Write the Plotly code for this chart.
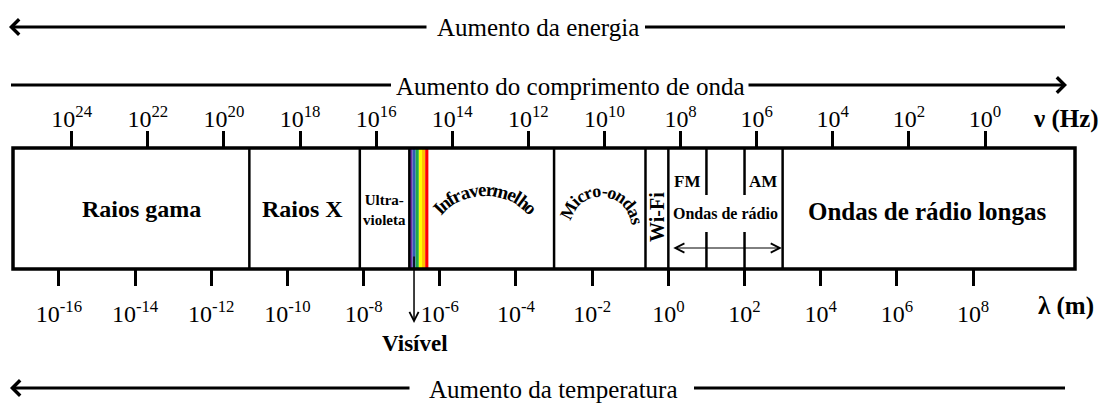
import numpy as np
import plotly.graph_objects as go

W, H = 1108, 403

# ---------------- data ----------------
freq_exponents = [24, 22, 20, 18, 16, 14, 12, 10, 8, 6, 4, 2, 0]          # nu (Hz) = 10^e
wavelength_exponents = [-16, -14, -12, -10, -8, -6, -4, -2, 0, 2, 4, 6, 8]  # lambda (m) = 10^e

# band boundaries, log10(lambda / m)
band_boundaries = [-11.0, -8.1, -3.0, -0.6, 0.0, 3.0]
visible_range = [-6.8, -6.3]
visible_colors = ["#7030A0", "#2F5DB5", "#22A84A", "#FFFF00", "#FFC000", "#FF0000"]
radio_sub_boundaries = [1.0, 2.0]          # FM | AM
band_names = ["Raios gama", "Raios X", "Ultra-<br>violeta", "Infravermelho",
              "Micro-ondas", "Wi-Fi", "Ondas de rádio", "Ondas de rádio longas"]
radio_sub_names = ["FM", "AM"]

# ---------------- layout constants ----------------
BOX_L, BOX_R, BOX_T, BOX_B = 13, 1075, 148, 269      # plot box in pixels
LAM_RANGE = [-17.205, 10.676]
NU_RANGE = [25.543, -2.365]
SERIF = "Liberation Serif, Times New Roman, serif"
box_w = BOX_R - BOX_L
box_h = BOX_B - BOX_T
ppd = box_w / (LAM_RANGE[1] - LAM_RANGE[0])   # pixels per decade


def px(x):
    return x / W


def py(y):
    return 1 - y / H


def yf(ypix):
    return (BOX_B - ypix) / box_h


fig = go.Figure()
# invisible traces so both axes exist
fig.add_trace(go.Scatter(x=wavelength_exponents, y=[0.5] * len(wavelength_exponents),
                         mode="markers", marker=dict(opacity=0), hoverinfo="skip",
                         xaxis="x", yaxis="y"))
fig.add_trace(go.Scatter(x=freq_exponents, y=[0.5] * len(freq_exponents),
                         mode="markers", marker=dict(opacity=0), hoverinfo="skip",
                         xaxis="x2", yaxis="y"))

shapes = []
# visible stripe
edges = np.linspace(visible_range[0], visible_range[1], len(visible_colors) + 1)
for i, c in enumerate(visible_colors):
    shapes.append(dict(type="rect", xref="x", yref="y", x0=edges[i], x1=edges[i + 1],
                       y0=0, y1=1, fillcolor=c, line=dict(width=0), layer="above"))
# band dividers
for b in band_boundaries + visible_range[:1]:
    shapes.append(dict(type="line", xref="x", yref="y", x0=b, x1=b, y0=0, y1=1,
                       line=dict(color="black", width=2.5), layer="above"))
# FM / AM partial dividers
for b in radio_sub_boundaries:
    shapes.append(dict(type="line", xref="x", yref="y", x0=b, x1=b, y0=yf(195), y1=1,
                       line=dict(color="black", width=2.5), layer="above"))
    shapes.append(dict(type="line", xref="x", yref="y", x0=b, x1=b, y0=0, y1=yf(232),
                       line=dict(color="black", width=2.5), layer="above"))
# outer box
shapes.append(dict(type="rect", xref="x domain", yref="y domain", x0=0, x1=1, y0=0, y1=1,
                   line=dict(color="black", width=3.5), layer="above"))

# plain lines of the big arrows
for (x0, x1, yy) in [(645, 1065, 27), (11, 391, 85), (694, 1065, 388)]:
    shapes.append(dict(type="line", xref="paper", yref="paper", x0=px(x0), x1=px(x1),
                       y0=py(yy), y1=py(yy), line=dict(color="black", width=3)))

ann = []


def text_ann(x, y, text, size, bold=False, xref="paper", yref="paper", angle=0):
    t = f"<b>{text}</b>" if bold else text
    ann.append(dict(x=x, y=y, xref=xref, yref=yref, text=t, showarrow=False,
                    textangle=angle, xanchor="center", yanchor="middle",
                    font=dict(family=SERIF, size=size, color="black")))


def arrow_ann(xh, yh, xt, yt, width=3, size=1.0, head=4):
    ann.append(dict(x=px(xh), y=py(yh), xref="paper", yref="paper", text="",
                    showarrow=True, ax=xt - xh, ay=yt - yh, axref="pixel", ayref="pixel",
                    arrowhead=head, arrowwidth=width, arrowsize=size, arrowcolor="black",
                    standoff=0))


# big arrows + titles
arrow_ann(9, 27, 428, 27)
text_ann(px(538), py(28), "Aumento da energia", 25)
arrow_ann(1067, 85, 747, 85)
text_ann(px(570), py(86), "Aumento do comprimento de onda", 25)
arrow_ann(10, 388, 411, 388)
text_ann(px(553), py(389), "Aumento da temperatura", 25)

# axis names
text_ann(px(1066), py(119), "ν (Hz)", 25, bold=True)
text_ann(px(1066), py(306), "λ (m)", 25, bold=True)

# band labels (x in log10 lambda, y in box fraction)
text_ann(-13.83, yf(209), band_names[0], 24, True, "x", "y")
text_ann(-9.6, yf(209), band_names[1], 24, True, "x", "y")
ann.append(dict(x=-7.46, y=yf(210), xref="x", yref="y", text="<b>Ultra-<br>violeta</b>",
                showarrow=False, font=dict(family=SERIF, size=15, color="black")))
text_ann(-0.3, yf(217), band_names[5], 20, True, "x", "y", angle=-90)
text_ann(0.5, yf(181), radio_sub_names[0], 17, True, "x", "y")
text_ann(2.49, yf(181), radio_sub_names[1], 17, True, "x", "y")
text_ann(1.49, yf(213), band_names[6], 16, True, "x", "y")
text_ann(6.8, yf(211), band_names[7], 25, True, "x", "y")

# double arrow under "Ondas de rádio"
ann.append(dict(x=2.98, y=yf(248), xref="x", yref="y", ax=0.09, ay=yf(248),
                axref="x", ayref="y", text="", showarrow=True, arrowside="end+start",
                arrowhead=5, startarrowhead=5, arrowwidth=1, arrowsize=1.8,
                startarrowsize=1.8, arrowcolor="black", standoff=0, startstandoff=0))

# "Visível" arrow
lam_vis_arrow = -6.677
ann.append(dict(x=lam_vis_arrow, y=py(323), xref="x", yref="paper", text="",
                showarrow=True, ax=0, ay=-68, axref="pixel", ayref="pixel",
                arrowhead=5, arrowwidth=1.5, arrowsize=1.2, arrowcolor="black", standoff=0))
text_ann(-6.65, py(343), "Visível", 23, bold=True, xref="x")

# curved labels
TB = {"I": .389, "n": .556, "f": .333, "r": .444, "a": .5, "v": .5, "e": .444, "m": .833,
      "l": .278, "h": .556, "o": .5, "M": .944, "i": .278, "c": .444, "-": .333, "d": .556,
      "s": .389}


def arc_text(text, cx_log, cy_pix, R, size, em_px, rot_deg=0.0):
    widths = [TB[c] for c in text]
    total = sum(widths)
    s = 0.0
    for ch, w in zip(text, widths):
        sc = s + w / 2
        th = (sc - total / 2) * em_px / R + np.radians(rot_deg)
        x = cx_log + R * np.sin(th) / ppd
        y = yf(cy_pix - R * np.cos(th))
        ann.append(dict(x=x, y=y, xref="x", yref="y", text=f"<b>{ch}</b>", showarrow=False,
                        textangle=float(np.degrees(th)), xanchor="center", yanchor="middle",
                        font=dict(family=SERIF, size=size, color="black")))
        s += w


arc_text(band_names[3], -4.813, 254, 65, 19, 18)
arc_text(band_names[4], -1.768, 228, 37, 18, 19, 4)

tick_font = dict(family=SERIF, size=24, color="black")
fig.update_layout(
    width=W, height=H, autosize=False,
    margin=dict(l=0, r=0, t=0, b=0, pad=0),
    paper_bgcolor="white", plot_bgcolor="white", showlegend=False,
    xaxis=dict(domain=[BOX_L / W, BOX_R / W], range=LAM_RANGE, showgrid=False,
               zeroline=False, showline=False, ticks="outside", ticklen=16, tickwidth=3,
               tickcolor="black", tickvals=wavelength_exponents,
               ticktext=[f"10<sup>{e}</sup>" for e in wavelength_exponents],
               tickfont=tick_font, ticklabelstandoff=7, fixedrange=True),
    xaxis2=dict(overlaying="x", side="top", anchor="y", range=NU_RANGE, showgrid=False,
                zeroline=False, showline=False, ticks="outside", ticklen=16, tickwidth=3,
                tickcolor="black", tickvals=freq_exponents,
                ticktext=[f"10<sup>{e}</sup>" for e in freq_exponents],
                tickfont=tick_font, ticklabelstandoff=-6, fixedrange=True),
    yaxis=dict(domain=[1 - BOX_B / H, 1 - BOX_T / H], range=[0, 1], showgrid=False,
               zeroline=False, showline=False, showticklabels=False, ticks="",
               fixedrange=True),
    shapes=shapes, annotations=ann,
)

fig.write_html("out.html", config={"displayModeBar": False},
               post_script="document.body.style.margin='0';document.body.style.overflow='hidden';")
